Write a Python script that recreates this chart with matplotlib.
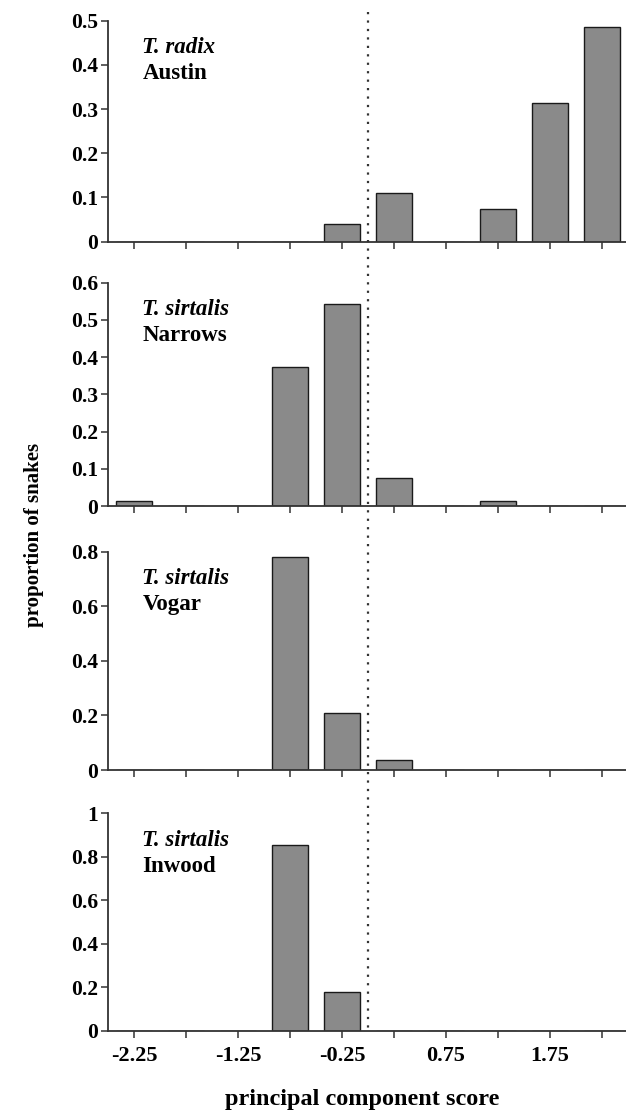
import matplotlib
matplotlib.use("Agg")
import matplotlib.pyplot as plt
import matplotlib.transforms as mtrans
from matplotlib.lines import Line2D

# ---- data ----
bins = [-2.25, -1.75, -1.25, -0.75, -0.25, 0.25, 0.75, 1.25, 1.75, 2.25]
austin = [0, 0, 0, 0, 0.040, 0.111, 0, 0.075, 0.314, 0.485]
narrows = [0.013, 0, 0, 0.374, 0.542, 0.074, 0, 0.014, 0, 0]
vogar = [0, 0, 0, 0.782, 0.208, 0.038, 0, 0, 0, 0]
inwood = [0, 0, 0, 0.855, 0.176, 0, 0, 0, 0, 0]

species = ["T. radix", "T. sirtalis", "T. sirtalis", "T. sirtalis"]
sites = ["Austin", "Narrows", "Vogar", "Inwood"]
series = [austin, narrows, vogar, inwood]

ymax = [0.5, 0.6, 0.8, 1.0]
yticks = [[0, 0.1, 0.2, 0.3, 0.4, 0.5],
          [0, 0.1, 0.2, 0.3, 0.4, 0.5, 0.6],
          [0, 0.2, 0.4, 0.6, 0.8],
          [0, 0.2, 0.4, 0.6, 0.8, 1]]
ytick_labels = [["0", "0.1", "0.2", "0.3", "0.4", "0.5"],
                ["0", "0.1", "0.2", "0.3", "0.4", "0.5", "0.6"],
                ["0", "0.2", "0.4", "0.6", "0.8"],
                ["0", "0.2", "0.4", "0.6", "0.8", "1"]]
xtick_labels = ["-2.25", "-1.25", "-0.25", "0.75", "1.75"]
xtick_label_pos = [-2.25, -1.25, -0.25, 0.75, 1.75]
cutoff = 0.0

# ---- style ----
plt.rcParams['font.family'] = ['Liberation Serif', 'DejaVu Serif']
W, H = 626, 1114
fig = plt.figure(figsize=(W / 100, H / 100), dpi=100)
fig.patch.set_facecolor("white")

# panel boxes in pixels: (top, bottom)
boxes = [(20.7, 241.7), (282.7, 506.0), (551.7, 770.0), (813.3, 1030.7)]
left_px = 108
px_per_unit = 104
xlim = (-2.5, 2.5)
width_px = (xlim[1] - xlim[0]) * px_per_unit

axes = []
for i, (top, bot) in enumerate(boxes):
    ax = fig.add_axes([left_px / W, 1 - bot / H, width_px / W, (bot - top) / H])
    axes.append(ax)
    ax.bar(bins, series[i], width=0.35, color="#8a8a8a", edgecolor="#1a1a1a",
           linewidth=1.0, zorder=2)
    ax.set_xlim(*xlim)
    ax.set_ylim(0, ymax[i])
    ax.set_yticks(yticks[i])
    ax.set_yticklabels(ytick_labels[i], fontsize=15.5, fontweight="bold")
    ax.set_xticks(bins)
    if i == 3:
        labs = [xtick_labels[xtick_label_pos.index(b)] if b in xtick_label_pos else ""
                for b in bins]
        ax.set_xticklabels(labs, fontsize=16, fontweight="bold")
    else:
        ax.set_xticklabels([])
    for s in ["top", "right"]:
        ax.spines[s].set_visible(False)
    for s in ["left", "bottom"]:
        ax.spines[s].set_linewidth(1.3)
        ax.spines[s].set_color("#333333")
    ax.tick_params(axis="y", direction="out", length=5, width=1.1, pad=2, color="#333333")
    ax.tick_params(axis="x", direction="out", length=5, width=1.1, pad=6, color="#333333")
    ax.patch.set_alpha(0)
    ax.text(0.066, 0.925, species[i], transform=ax.transAxes, fontsize=16.5,
            fontweight="bold", style="italic", va="top", ha="left")
    ax.text(0.066, 0.925 - 26 / (bot - top), sites[i], transform=ax.transAxes,
            fontsize=16.5, fontweight="bold", va="top", ha="left")

# dotted cutoff line spanning all panels
trans = mtrans.blended_transform_factory(axes[0].transData, fig.transFigure)
fig.add_artist(Line2D([cutoff, cutoff], [1 - 12 / H, 1 - 1031 / H], transform=trans,
                      color="#333333", linewidth=1.6, linestyle=(0, (1, 2.8))))

fig.text(34 / W, 1 - 535 / H, "proportion of snakes", rotation=90, fontsize=15,
         fontweight="bold", ha="center", va="center")
fig.text(362 / W, 1 - 1100 / H, "principal component score", fontsize=17.5,
         fontweight="bold", ha="center", va="center")

fig.savefig("out.png", dpi=100, facecolor="white")
